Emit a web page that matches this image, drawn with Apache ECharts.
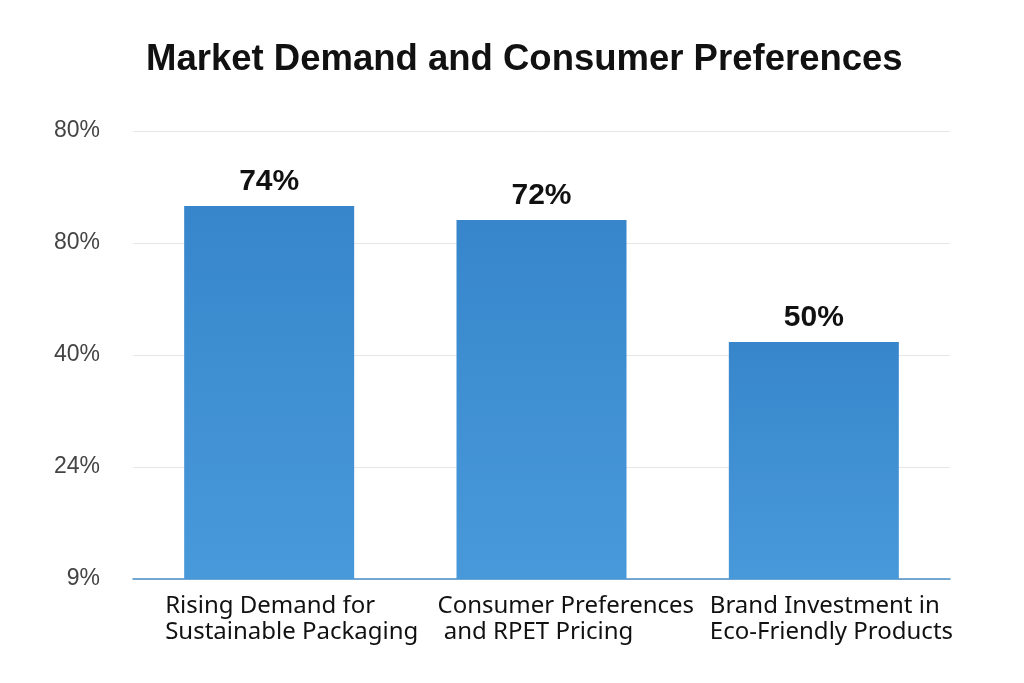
<!DOCTYPE html>
<html>
<head>
<meta charset="utf-8">
<script src="https://cdn.jsdelivr.net/npm/echarts@6/dist/echarts.min.js"></script>
<style>
html,body{margin:0;padding:0;background:#fff;}
#chart{width:1024px;height:683px;}
</style>
</head>
<body>
<div id="chart"></div>
<script>
// Categories (x-axis)
var categories = [
  "Rising Demand for\nSustainable Packaging",
  "Consumer Preferences\n and RPET Pricing",
  "Brand Investment in\nEco-Friendly Products"
];
// Bar heights as drawn, on the drawn axis scale (0..80)
var barHeights = [66.6, 64.1, 42.3];
// Data label texts shown above bars
var barLabels = ["74%", "72%", "50%"];
// Y-axis tick labels, bottom to top, as printed
var yTickLabels = ["9%", "24%", "40%", "80%", "80%"];

var chart = echarts.init(document.getElementById('chart'));
chart.setOption({
  backgroundColor: '#ffffff',
  animation: false,
  title: {
    text: 'Market Demand and Consumer Preferences',
    left: 141,
    top: 36,
    textStyle: {
      fontFamily: 'Liberation Sans',
      fontSize: 36.5,
      fontWeight: 'bold',
      color: '#111111'
    }
  },
  grid: { left: 133, right: 74, top: 131, bottom: 104, containLabel: false },
  xAxis: {
    type: 'category',
    data: categories,
    axisTick: { show: false },
    axisLine: { show: true, lineStyle: { color: '#4a8fc7', width: 1.5 } },
    axisLabel: {
      interval: 0,
      margin: 14,
      formatter: function (v) {
        return v.split('\n').map(function (l) { return '{a|' + l + '}'; }).join('\n');
      },
      rich: {
        a: {
          fontFamily: 'Noto Sans',
          fontSize: 24,
          color: '#111111',
          width: 208,
          align: 'left',
          lineHeight: 26
        }
      }
    }
  },
  yAxis: {
    type: 'value',
    min: 0,
    max: 80,
    interval: 20,
    axisLine: { show: false },
    axisTick: { show: false },
    splitLine: { lineStyle: { color: '#e6e6e6', width: 1 } },
    axisLabel: {
      margin: 33,
      fontFamily: 'Liberation Sans',
      fontSize: 23,
      color: '#444444',
      formatter: function (v) { return yTickLabels[Math.round(v / 20)]; }
    }
  },
  series: [{
    type: 'bar',
    data: barHeights,
    barWidth: 170,
    itemStyle: {
      color: new echarts.graphic.LinearGradient(0, 0, 0, 1, [
        { offset: 0, color: '#3786cc' },
        { offset: 1, color: '#4899da' }
      ])
    },
    label: {
      show: true,
      position: 'top',
      distance: 9,
      fontFamily: 'Liberation Sans',
      fontSize: 30,
      fontWeight: 'bold',
      color: '#111111',
      formatter: function (p) { return barLabels[p.dataIndex]; }
    }
  }]
});
</script>
</body>
</html>
